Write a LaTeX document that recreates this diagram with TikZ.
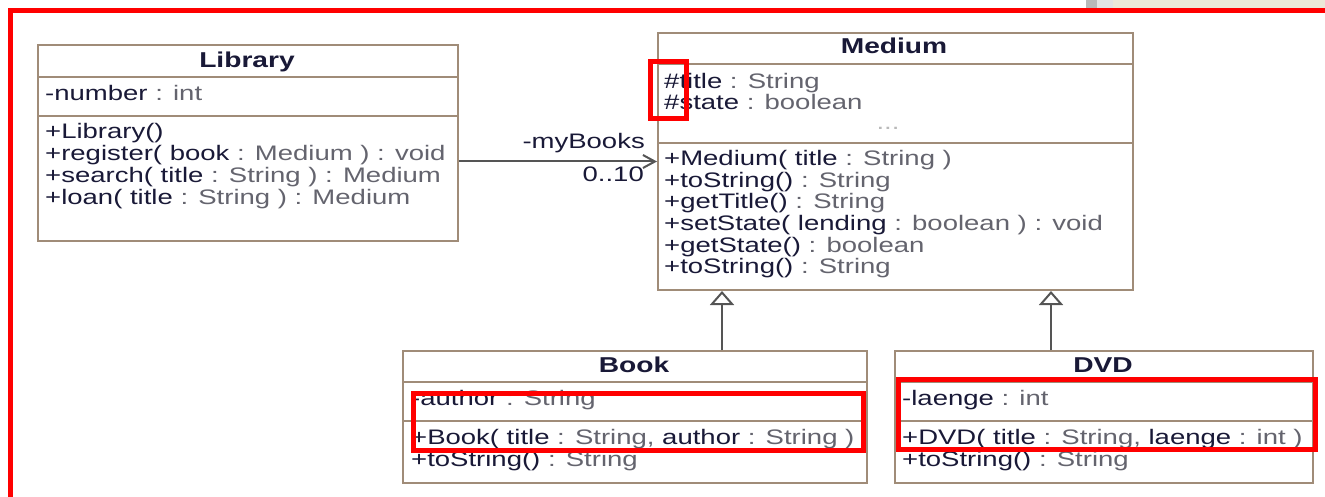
\documentclass[tikz,border=0pt]{standalone}
\usepackage{fontspec}
\setmainfont[FakeStretch=1.31]{Liberation Sans}
\usepackage{tikz}
\usetikzlibrary{arrows.meta, positioning}
\definecolor{umlborder}{RGB}{160,140,120}
\definecolor{umlname}{RGB}{25,25,55}
\definecolor{umltype}{RGB}{100,100,110}
\definecolor{umlline}{RGB}{85,85,85}
\definecolor{markred}{RGB}{255,0,0}
\definecolor{winbeige}{RGB}{236,233,216}
\newcommand{\ty}[1]{\textcolor{umltype}{#1}}

\begin{document}
\begin{tikzpicture}[x=1pt, y=-1pt,
    classbox/.style={draw=umlborder, line width=2pt, fill=white, inner sep=0pt, anchor=north west},
    divider/.style={draw=umlborder, line width=2pt},
    classname/.style={anchor=base, inner sep=0pt, text=umlname, font=\bfseries\fontsize{21.5}{22}\selectfont},
    member/.style={anchor=base west, inner sep=0pt, text=umlname, font=\fontsize{21}{21.5}\selectfont},
    assoc/.style={umlline, line width=2pt, -{Straight Barb[length=12pt, width=13pt]}},
    inherit/.style={umlline, line width=2pt, -{Triangle[open, length=14pt, width=24pt, fill=white]}},
    marker/.style={markred, line width=5pt}]
    \useasboundingbox (0,0) rectangle (1325,497);

    % Window edge
    \fill[winbeige] (1113,0) rectangle (1325,8);
    \fill[gray!55] (1086,0) rectangle (1097,8);
    \fill[gray!22] (1097,0) rectangle (1113,8);
    \draw[marker] (10.5,500) -- (10.5,10.5) -- (1328,10.5);

    % Class boxes
    \node[classbox, minimum width=420pt, minimum height=196pt] (library) at (37,44) {};
    \node[classbox, minimum width=475pt, minimum height=257pt] (medium) at (657,32) {};
    \node[classbox, minimum width=464pt, minimum height=132pt] (book) at (402,350) {};
    \node[classbox, minimum width=418pt, minimum height=132pt] (dvd) at (894,350) {};

    % Compartments
    \draw[divider] ([yshift=-33pt]library.north west) -- ([yshift=-33pt]library.north east);
    \draw[divider] ([yshift=-72pt]library.north west) -- ([yshift=-72pt]library.north east);
    \draw[divider] ([yshift=-32pt]medium.north west) -- ([yshift=-32pt]medium.north east);
    \draw[divider] ([yshift=-111pt]medium.north west) -- ([yshift=-111pt]medium.north east);
    \foreach \cls in {book, dvd} {
        \draw[divider] ([yshift=-32pt]\cls.north west) -- ([yshift=-32pt]\cls.north east);
        \draw[divider] ([yshift=-71pt]\cls.north west) -- ([yshift=-71pt]\cls.north east);
    }

    % Library
    \node[classname] (library-name) at (247,68) {Library};
    \node[member] (library-attr) at (45,100.5) {-number \ty{: int}};
    \foreach \txt [count=\i] in {{+Library()}, {+register( book \ty{: Medium ) : void}},
        {+search( title \ty{: String ) : Medium}}, {+loan( title \ty{: String ) : Medium}}}
        \node[member] (library-op\i) at (45, {139+21.7*(\i-1)}) {\txt};

    % Medium
    \node[classname] (medium-name) at (894,54) {Medium};
    \node[member] (medium-attr1) at (664,88.5) {\#title \ty{: String}};
    \node[member] (medium-attr2) at (664,110) {\#state \ty{: boolean}};
    \node[member, anchor=base, text=gray!55] (medium-more) at (888,130) {...};
    \foreach \txt [count=\i] in {{+Medium( title \ty{: String )}}, {+toString() \ty{: String}},
        {+getTitle() \ty{: String}}, {+setState( lending \ty{: boolean ) : void}},
        {+getState() \ty{: boolean}}, {+toString() \ty{: String}}}
        \node[member] (medium-op\i) at (664, {166+21.5*(\i-1)}) {\txt};

    % Book
    \node[classname] (book-name) at (634,372.5) {Book};
    \node[member] (book-attr) at (411,405.5) {-author \ty{: String}};
    \node[member] (book-op1) at (411,444) {+Book( title \ty{: String,} author \ty{: String )}};
    \node[member] (book-op2) at (411,466) {+toString() \ty{: String}};

    % DVD
    \node[classname] (dvd-name) at (1103,372.5) {DVD};
    \node[member] (dvd-attr) at (902,405.5) {-laenge \ty{: int}};
    \node[member] (dvd-op1) at (902,444) {+DVD( title \ty{: String,} laenge \ty{: int )}};
    \node[member] (dvd-op2) at (902,466) {+toString() \ty{: String}};

    % Association
    \draw[assoc] (library.east |- medium.west) -- (medium.west);
    \node[member, anchor=base east] (role) at (645,149) {-myBooks};
    \node[member, anchor=base east] (mult) at (644,182) {0..10};

    % Generalisation
    \coordinate (book-up) at (722,350);
    \coordinate (dvd-up) at (1051,350);
    \draw[inherit] (book-up) -- (book-up |- medium.south);
    \draw[inherit] (dvd-up) -- (dvd-up |- medium.south);

    % Highlights
    \draw[marker] (650.5,61.5) rectangle (686.5,118.5);
    \draw[marker] (413,393.5) rectangle (863.5,450);
    \draw[marker] (898.5,379) rectangle (1315.5,449);
\end{tikzpicture}
\end{document}
